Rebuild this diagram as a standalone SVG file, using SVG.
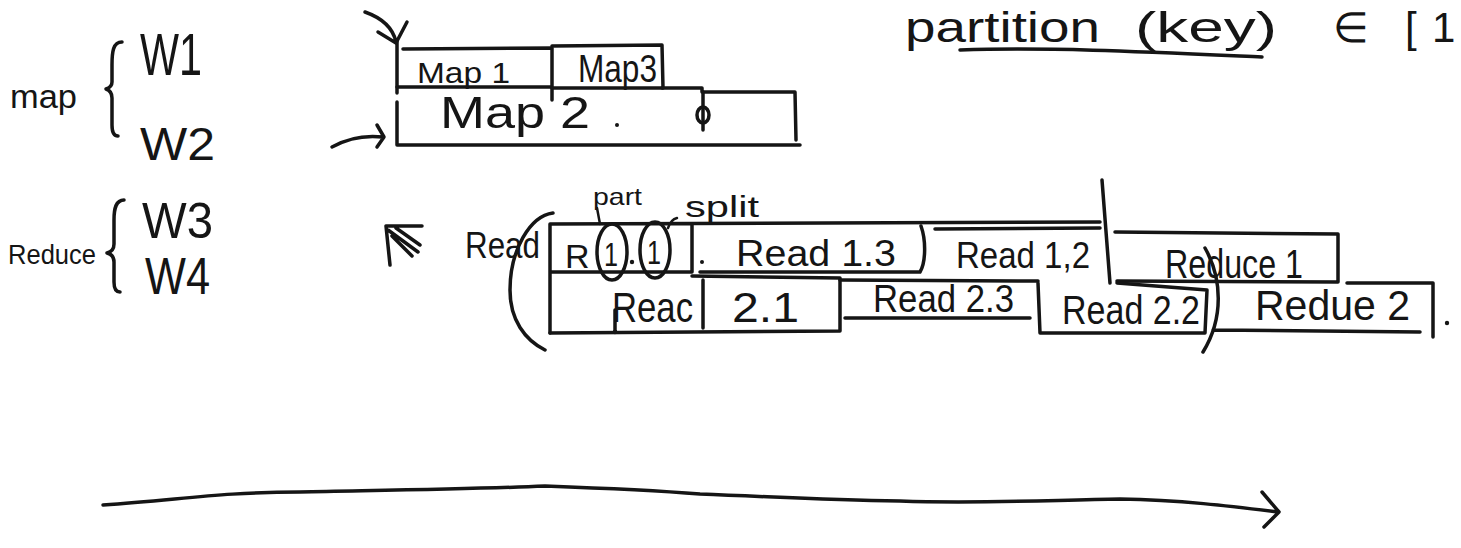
<svg xmlns="http://www.w3.org/2000/svg" width="1461" height="548" viewBox="0 0 1461 548">
<style>
.s{fill:none;stroke:#151515;stroke-width:3.5;stroke-linecap:round;stroke-linejoin:round}
.th{stroke-width:2.5}
.t{font-family:"Liberation Sans",Arial,sans-serif;fill:#151515}
</style>
<rect width="1461" height="548" fill="#ffffff"/>

<g id="title">
  <text class="t" x="905" y="42" font-size="42" textLength="195" lengthAdjust="spacingAndGlyphs">partition</text>
  <text class="t" x="1135" y="42" font-size="42" textLength="142" lengthAdjust="spacingAndGlyphs">(key)</text>
  <text class="t" x="1333" y="42" font-size="42" textLength="36" lengthAdjust="spacingAndGlyphs">∈</text>
  <text class="t" x="1405" y="42" font-size="42">[</text>
  <text class="t" x="1432" y="42" font-size="42">1</text>
  <path class="s" d="M960,50 C1050,47 1150,52 1262,57"/>
</g>

<g id="labels-map">
  <text class="t" x="10" y="108" font-size="34" textLength="67" lengthAdjust="spacingAndGlyphs">map</text>
  <path class="s" d="M122,42 C113,42 112,52 112,65 L112,82 C112,86 109,88 106,89 C109,90 112,93 112,98 L112,125 C112,132 114,136 118,136"/>
  <text class="t" x="140" y="75" font-size="60" textLength="62" lengthAdjust="spacingAndGlyphs">W1</text>
  <text class="t" x="140" y="160" font-size="46" textLength="75" lengthAdjust="spacingAndGlyphs">W2</text>
</g>

<g id="labels-reduce">
  <text class="t" x="142" y="238" font-size="50" textLength="71" lengthAdjust="spacingAndGlyphs">W3</text>
  <text class="t" x="8" y="264" font-size="28" textLength="88" lengthAdjust="spacingAndGlyphs">Reduce</text>
  <path class="s" d="M124,200 C116,200 114,208 114,220 L114,244 C114,249 111,252 107,253 C111,254 114,257 114,262 L114,282 C114,288 116,292 120,292"/>
  <text class="t" x="145" y="294" font-size="52" textLength="65" lengthAdjust="spacingAndGlyphs">W4</text>
</g>

<g id="map1">
  <path class="s" d="M403,49 L552,48 M397,87 L552,87 M552,48 L552,100"/>
  <text class="t" x="417" y="83" font-size="30" textLength="93" lengthAdjust="spacingAndGlyphs">Map 1</text>
</g>
<g id="map3">
  <path class="s" d="M552,46 L662,45 L663,88 L552,88"/>
  <text class="t" x="578" y="82" font-size="38" textLength="79" lengthAdjust="spacingAndGlyphs">Map3</text>
</g>
<g id="map2">
  <path class="s" d="M397,40 L397,93 M397,102 L397,145 L800,145 M662,88 L702,88 L702,92 L795,92 L796,140"/>
  <text class="t" x="440" y="128" font-size="45" textLength="150" lengthAdjust="spacingAndGlyphs">Map 2</text>
  <circle cx="617" cy="125" r="2" fill="#151515"/>
  <path class="s" d="M703,92 L703,130"/>
  <ellipse class="s" cx="703" cy="115" rx="6" ry="8"/>
</g>

<g id="partsplit">
  <path class="s" d="M550,224 L1100,222 M550,224 L550,333 M550,272 L692,272 M692,225 L692,272"/>
  <text class="t" x="565" y="268" font-size="34">R</text>
  <ellipse class="s" cx="612" cy="252" rx="15" ry="28"/>
  <text class="t" x="604" y="266" font-size="34" textLength="14" lengthAdjust="spacingAndGlyphs">1</text>
  <circle cx="632" cy="262" r="2.2" fill="#151515"/>
  <ellipse class="s" cx="655" cy="250" rx="15" ry="28"/>
  <text class="t" x="647" y="264" font-size="34" textLength="14" lengthAdjust="spacingAndGlyphs">1</text>
  <text class="t" x="593" y="205" font-size="24" textLength="49" lengthAdjust="spacingAndGlyphs">part</text>
  <path class="s th" d="M597,208 L600,224"/>
  <text class="t" x="685" y="217" font-size="30" textLength="74" lengthAdjust="spacingAndGlyphs">split</text>
  <path class="s th" d="M668,228 C670,222 673,219 677,218"/>
</g>

<g id="read">
  <text class="t" x="465" y="258" font-size="36" textLength="75" lengthAdjust="spacingAndGlyphs">Read</text>
  <path class="s" d="M553,213 C530,216 510,250 510,290 C510,320 525,340 545,350"/>
</g>

<g id="read13">
  <path class="s" d="M700,272 L920,272 C926,262 926,240 921,226"/>
  <text class="t" x="736" y="266" font-size="36" textLength="160" lengthAdjust="spacingAndGlyphs">Read 1.3</text>
  <circle cx="702" cy="262" r="2" fill="#151515"/>
</g>

<g id="read12">
  <path class="s" d="M935,229 L1100,228"/>
  <text class="t" x="956" y="268" font-size="36" textLength="134" lengthAdjust="spacingAndGlyphs">Read 1,2</text>
  <path class="s" d="M1102,180 L1110,283"/>
</g>

<g id="reduce1">
  <path class="s" d="M1115,232 L1338,234 L1338,282 L1117,281"/>
  <text class="t" x="1165" y="278" font-size="40" textLength="138" lengthAdjust="spacingAndGlyphs">Reduce 1</text>
</g>

<g id="read21">
  <path class="s" d="M550,333 L840,331 L840,278 L692,276 M703,280 L703,328 M615,310 L615,333"/>
  <text class="t" x="612" y="322" font-size="42" textLength="81" lengthAdjust="spacingAndGlyphs">Reac</text>
  <text class="t" x="732" y="322" font-size="42" textLength="67" lengthAdjust="spacingAndGlyphs">2.1</text>
</g>

<g id="read23">
  <path class="s" d="M840,280 L1038,281 M845,318 L1030,318"/>
  <text class="t" x="873" y="312" font-size="38" textLength="141" lengthAdjust="spacingAndGlyphs">Read 2.3</text>
</g>

<g id="read22">
  <path class="s" d="M1117,283 L1207,290 M1038,283 L1040,333 L1205,333 L1207,290"/>
  <text class="t" x="1062" y="324" font-size="40" textLength="138" lengthAdjust="spacingAndGlyphs">Read 2.2</text>
</g>

<g id="reduce2">
  <path class="s" d="M1205,248 C1222,278 1224,318 1203,352 M1213,330 L1420,332 M1347,283 L1433,283 L1433,337"/>
  <text class="t" x="1255" y="320" font-size="42" textLength="155" lengthAdjust="spacingAndGlyphs">Redue 2</text>
  <circle cx="1447" cy="323" r="2.2" fill="#151515"/>
</g>

<g id="connectors">
  <path class="s" d="M365,12 C382,18 393,28 396,42 M378,32 L396,43 L407,22"/>
  <path class="s" d="M332,147 C348,138 365,135 383,137 M377,125 L384,137 L377,147"/>
  <path class="s" d="M386,226 L390,265 M386,226 L422,226 M388,230 L418,252 M396,228 L420,245 M392,236 L412,256"/>
  <path class="s" d="M103,505 C180,500 220,492 300,492 C400,490 480,489 545,486 C600,488 650,490 700,494 C780,497 820,500 900,501 C980,504 1050,500 1120,499 C1180,500 1230,506 1278,512 M1262,492 L1279,512 L1264,527"/>
</g>
</svg>
